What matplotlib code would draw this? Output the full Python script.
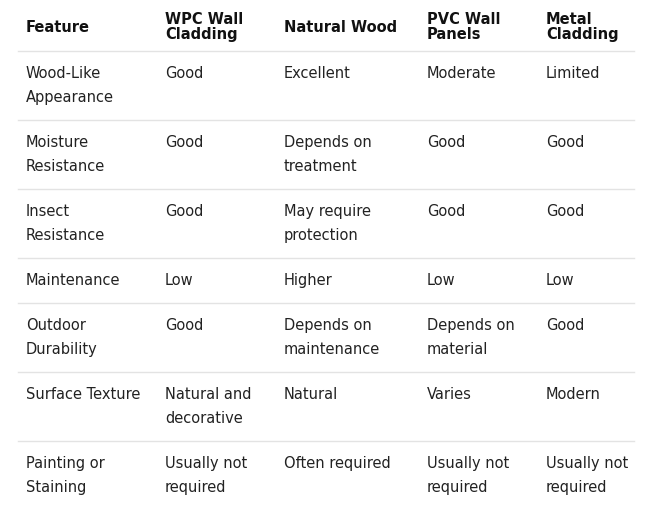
import matplotlib
matplotlib.use("Agg")
import matplotlib.pyplot as plt

headers = ["Feature", "WPC Wall\nCladding", "Natural Wood", "PVC Wall\nPanels", "Metal\nCladding"]
features = ["Wood-Like\nAppearance", "Moisture\nResistance", "Insect\nResistance", "Maintenance",
            "Outdoor\nDurability", "Surface Texture", "Painting or\nStaining"]
wpc = ["Good", "Good", "Good", "Low", "Good", "Natural and\ndecorative", "Usually not\nrequired"]
wood = ["Excellent", "Depends on\ntreatment", "May require\nprotection", "Higher",
        "Depends on\nmaintenance", "Natural", "Often required"]
pvc = ["Moderate", "Good", "Good", "Low", "Depends on\nmaterial", "Varies", "Usually not\nrequired"]
metal = ["Limited", "Good", "Good", "Low", "Good", "Modern", "Usually not\nrequired"]

col_x = [26, 165, 284, 427, 546]
row_lines = [51, 120, 189, 258, 303, 372, 441]

fig = plt.figure(figsize=(6.63, 5.19), dpi=100)
ax = fig.add_axes([0, 0, 1, 1])
ax.set_xlim(0, 663)
ax.set_ylim(519, 0)
ax.axis("off")

for x, h in zip(col_x, headers):
    ax.text(x, 27, h, fontsize=10.5, fontweight="bold", color="#111111",
            va="center", ha="left", linespacing=1.05, family="DejaVu Sans")

cols = [features, wpc, wood, pvc, metal]
for i, yl in enumerate(row_lines):
    ax.plot([18, 634], [yl, yl], color="#e3e3e3", lw=1)
    for x, col in zip(col_x, cols):
        ax.text(x, yl + 15, col[i], fontsize=10.5, color="#222222", va="top", ha="left",
                linespacing=1.72, family="DejaVu Sans")

fig.savefig("out.png", dpi=100)
